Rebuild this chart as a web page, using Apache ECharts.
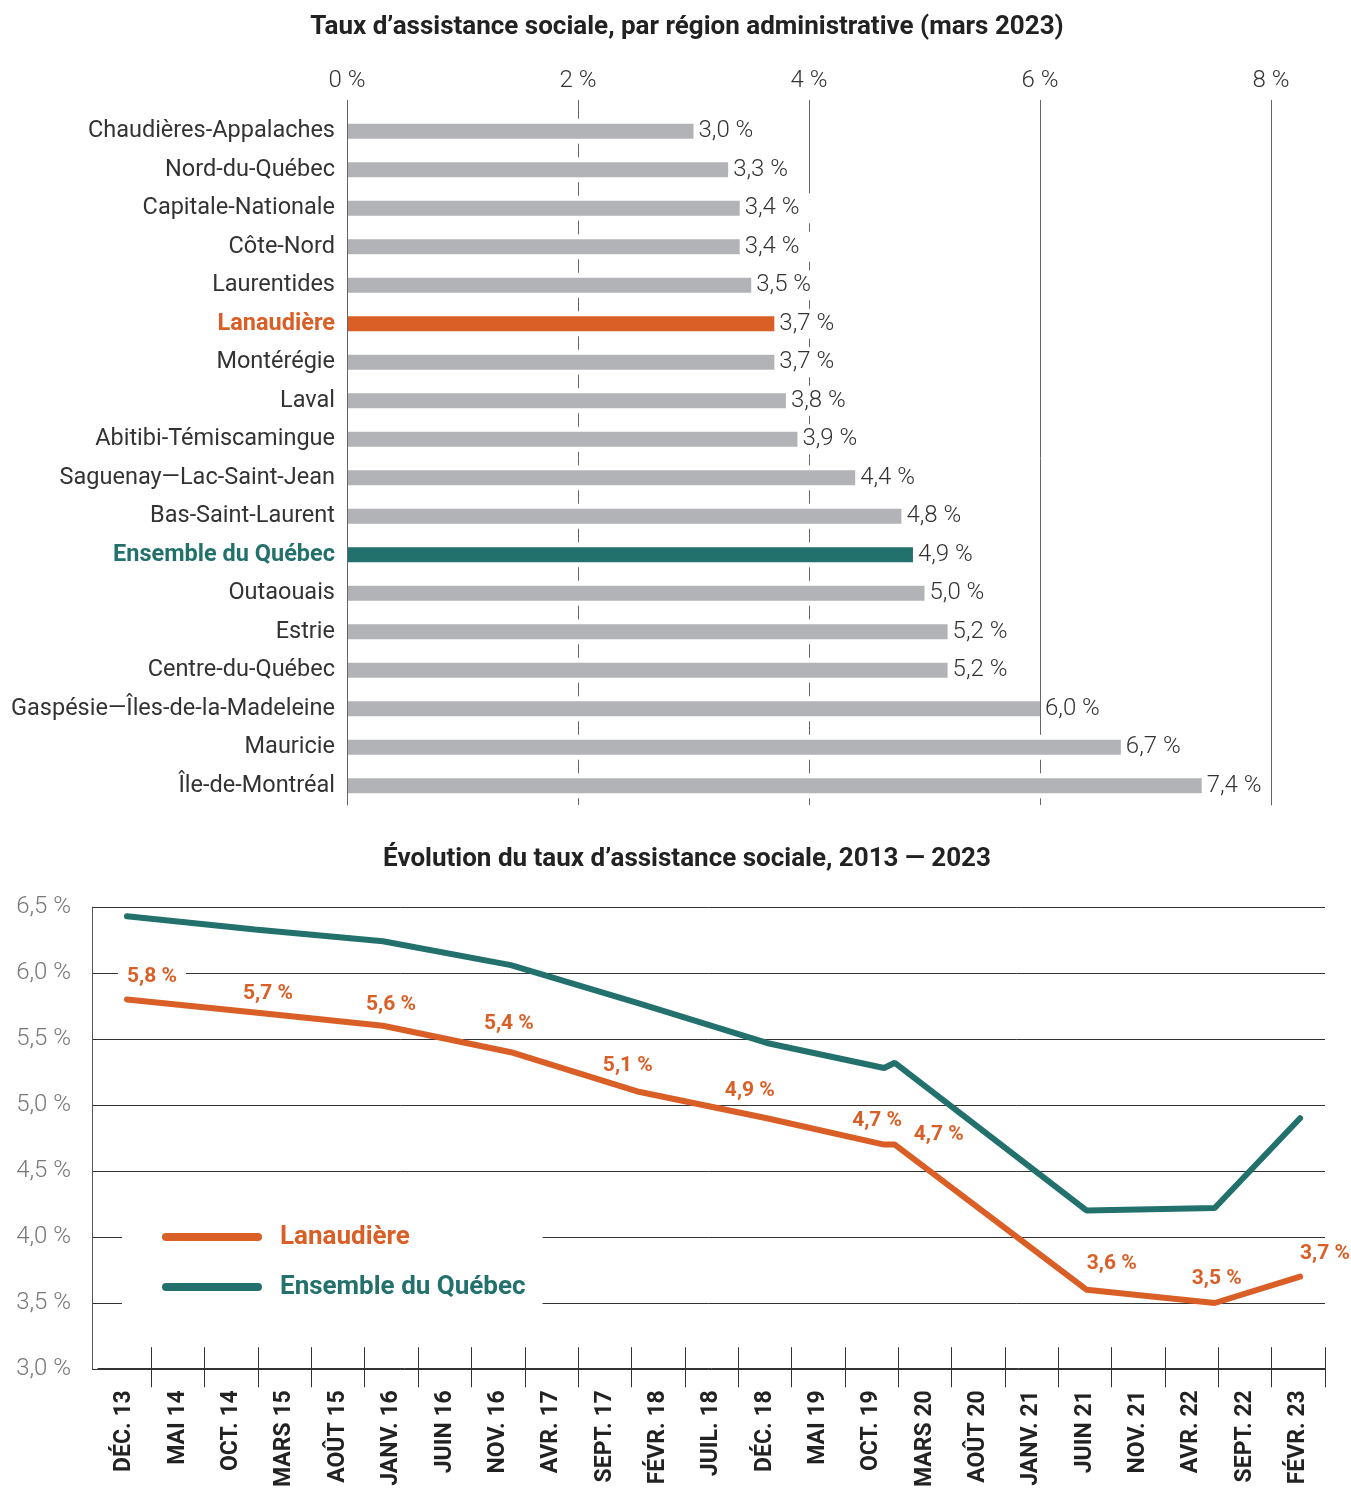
<!DOCTYPE html>
<html>
<head>
<meta charset="utf-8">
<script src="https://cdn.jsdelivr.net/npm/echarts@6/dist/echarts.min.js"></script>
<style>
html, body {margin: 0; padding: 0; background: #fff;}
#chart {width: 1351px; height: 1490px;}
</style>
</head>
<body>
<div id="chart"></div>
<script>
// taux par région, mars 2023
var regions = ['Chaudières-Appalaches', 'Nord-du-Québec', 'Capitale-Nationale', 'Côte-Nord', 'Laurentides',
    'Lanaudière', 'Montérégie', 'Laval', 'Abitibi-Témiscamingue', 'Saguenay—Lac-Saint-Jean',
    'Bas-Saint-Laurent', 'Ensemble du Québec', 'Outaouais', 'Estrie', 'Centre-du-Québec',
    'Gaspésie—Îles-de-la-Madeleine', 'Mauricie', 'Île-de-Montréal'];
var rates = [3.0, 3.3, 3.4, 3.4, 3.5, 3.7, 3.7, 3.8, 3.9, 4.4, 4.8, 4.9, 5.0, 5.2, 5.2, 6.0, 6.7, 7.4];

// évolution 2013-2023 (mois écoulés depuis déc. 2013)
var monthLabels = ['DÉC. 13', 'MAI 14', 'OCT. 14', 'MARS 15', 'AOÛT 15', 'JANV. 16', 'JUIN 16', 'NOV. 16',
    'AVR. 17', 'SEPT. 17', 'FÉVR. 18', 'JUIL. 18', 'DÉC. 18', 'MAI 19', 'OCT. 19', 'MARS 20', 'AOÛT 20',
    'JANV. 21', 'JUIN 21', 'NOV. 21', 'AVR. 22', 'SEPT. 22', 'FÉVR. 23'];
var pointMonths = [0, 12, 24, 36, 48, 60, 71, 72, 90, 102, 110];
var lanaudiere = [5.8, 5.7, 5.6, 5.4, 5.1, 4.9, 4.7, 4.7, 3.6, 3.5, 3.7];
var quebec = [6.43, 6.33, 6.24, 6.06, 5.77, 5.47, 5.28, 5.32, 4.2, 4.22, 4.9];

// décalage des étiquettes (px)
var labelShift = [[25, -23], [13, -19], [8, -21], [-2, -28], [-11, -26], [-17, -27],
    [-7, -24], [44, -10], [25, -26], [2, -24], [25, -23]];

var ORANGE = '#d95f26', TEAL = '#23716c', GREY = '#b2b3b6';
var FONT = 'Roboto';

function fmt(v) {
    return v.toFixed(1).replace('.', ',') + ' %';
}

var chart = echarts.init(document.getElementById('chart'));
var option = {
    animation: false,
    textStyle: {fontFamily: FONT},
    title: [{
        text: 'Taux d’assistance sociale, par région administrative (mars 2023)',
        left: 682, top: 9, textAlign: 'center',
        textStyle: {fontSize: 26, fontWeight: 'bold', color: '#222', fontFamily: FONT}
    }, {
        text: 'Évolution du taux d’assistance sociale, 2013 — 2023',
        left: 682, top: 841, textAlign: 'center',
        textStyle: {fontSize: 26, fontWeight: 'bold', color: '#222', fontFamily: FONT}
    }],
    legend: {
        orient: 'vertical', left: 122, top: 1210,
        padding: [12, 17, 14, 40], itemGap: 20,
        itemWidth: 100, itemHeight: 8,
        icon: 'path://M4,0H96A4,4,0,0,1,96,8H4A4,4,0,0,1,4,0Z',
        backgroundColor: '#fff',
        selectedMode: false,
        textStyle: {fontSize: 26, fontWeight: 'bold', lineHeight: 30, padding: [0, 0, 0, 13], fontFamily: FONT},
        data: [
            {name: 'Lanaudière', textStyle: {color: ORANGE}},
            {name: 'Ensemble du Québec', textStyle: {color: TEAL}}
        ]
    },
    grid: [
        {left: 347, right: 80, top: 112, bottom: 685},
        {left: 92, right: 26, top: 907, bottom: 121},
        {left: 98, right: 26, top: 907, bottom: 121}
    ],
    xAxis: [{
        gridIndex: 0, type: 'value', position: 'top', min: 0, max: 8, interval: 2,
        axisLine: {show: false},
        axisTick: {show: true, length: 12, lineStyle: {color: '#666'}},
        axisLabel: {formatter: function (v) { return v + ' %'; }, color: '#333', fontSize: 24, fontWeight: 300, margin: 19},
        splitLine: {lineStyle: {color: '#666', width: 1}}
    }, {
        gridIndex: 1, type: 'value', min: -3.28, max: 112.34, show: false
    }, {
        gridIndex: 2, type: 'category', data: monthLabels, position: 'bottom',
        axisLine: {show: true, onZero: false, lineStyle: {color: '#333'}},
        axisTick: {show: true, interval: function (i) { return i > 0; }, length: 19, lineStyle: {color: '#333'}},
        axisLabel: {interval: 0, rotate: 90, fontWeight: 'bold', fontSize: 23, color: '#222', margin: 22}
    }, {
        gridIndex: 2, type: 'category', data: monthLabels, position: 'bottom',
        axisLine: {show: false, onZero: false},
        axisTick: {show: true, inside: true, interval: function (i) { return i > 0; }, length: 21, lineStyle: {color: '#333'}},
        axisLabel: {show: false}
    }],
    yAxis: [{
        gridIndex: 0, type: 'category', data: regions, inverse: true, z: 3,
        axisLine: {onZero: false, lineStyle: {color: '#666'}},
        axisTick: {show: false},
        axisLabel: {
            margin: 12, fontSize: 23.5, color: '#333',
            formatter: function (name) {
                if (name === 'Lanaudière') return '{lan|' + name + '}';
                if (name === 'Ensemble du Québec') return '{que|' + name + '}';
                return name;
            },
            rich: {
                lan: {color: ORANGE, fontWeight: 'bold', fontSize: 23.5},
                que: {color: TEAL, fontWeight: 'bold', fontSize: 23.5}
            }
        }
    }, {
        // axe caché des bandes blanches; sa ligne redessine le trait de 8 %
        gridIndex: 0, type: 'category', data: regions, inverse: true, position: 'right', z: 3,
        axisLine: {show: true, onZero: false, lineStyle: {color: '#666'}},
        axisTick: {show: false}, axisLabel: {show: false}
    }, {
        gridIndex: 1, type: 'value', min: 3, max: 6.5, interval: 0.5,
        axisLine: {show: true, onZero: false, lineStyle: {color: '#555'}},
        axisTick: {show: false},
        axisLabel: {formatter: fmt, color: '#777', fontSize: 24, fontWeight: 300, margin: 21},
        splitLine: {lineStyle: {color: '#333', width: 1}}
    }, {
        gridIndex: 2, type: 'value', min: 0, max: 1, show: false
    }],
    series: [{
        // bande blanche derrière chaque barre
        type: 'bar', xAxisIndex: 0, yAxisIndex: 1, silent: true,
        barWidth: 25, itemStyle: {color: '#fff'},
        data: rates
    }, {
        name: 'Taux', type: 'bar', xAxisIndex: 0, yAxisIndex: 0, barWidth: 15,
        data: rates.map(function (v, i) {
            var c = GREY;
            if (regions[i] === 'Lanaudière') c = ORANGE;
            if (regions[i] === 'Ensemble du Québec') c = TEAL;
            return {value: v, itemStyle: {color: c}};
        }),
        label: {
            show: true, position: 'right', distance: 3,
            formatter: function (p) { return fmt(p.value); },
            color: '#333', fontSize: 24, fontWeight: 300,
            backgroundColor: '#fff', padding: [3, 12, 3, 2]
        }
    }, {
        name: 'Ensemble du Québec', type: 'line', xAxisIndex: 1, yAxisIndex: 2,
        color: TEAL, symbol: 'circle', symbolSize: 1,
        lineStyle: {width: 6, color: TEAL, cap: 'round'},
        data: pointMonths.map(function (m, i) { return [m, quebec[i]]; })
    }, {
        name: 'Lanaudière', type: 'line', xAxisIndex: 1, yAxisIndex: 2,
        color: ORANGE, symbol: 'circle', symbolSize: 1,
        lineStyle: {width: 6, color: ORANGE, cap: 'round'},
        data: pointMonths.map(function (m, i) {
            // seule la première étiquette chevauche une ligne de grille
            return {value: [m, lanaudiere[i]], label: {offset: labelShift[i], backgroundColor: i === 0 ? '#fff' : 'transparent'}};
        }),
        label: {
            show: true, position: 'inside',
            formatter: function (p) { return fmt(p.value[1]); },
            color: ORANGE, fontSize: 21, fontWeight: 'bold',
            padding: [0, 9]
        }
    }]
};
chart.setOption(option);
</script>
</body>
</html>
